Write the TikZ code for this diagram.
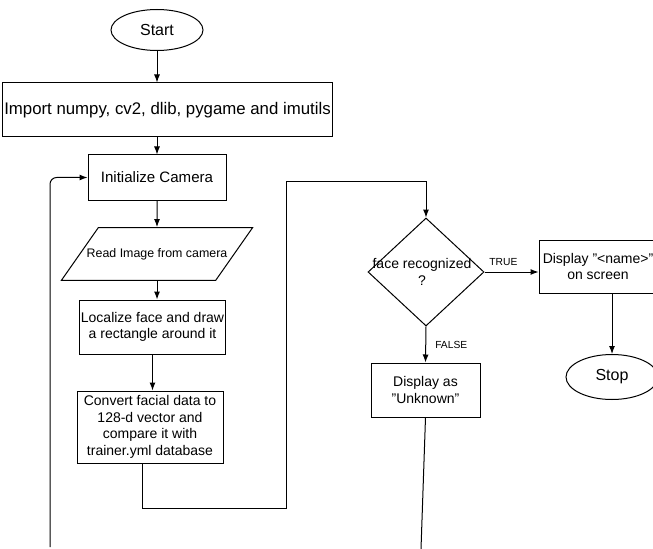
\documentclass[tikz,border=0pt]{standalone}
\usepackage{fontspec}
\setmainfont{Liberation Sans}
\usepackage{xcolor}
\usepackage{tikz}
\usetikzlibrary{shapes, arrows.meta}

\begin{document}
\begin{tikzpicture}[x=0.75pt,y=0.75pt,yscale=-1,xscale=1,
        line width=0.75,
        flowbox/.style={draw, rectangle, align=center, inner sep=0.75pt, font=\fontsize{10.5}{12.5}\selectfont},
        terminal/.style={draw, ellipse, minimum width=69pt, inner sep=0pt, font=\fontsize{12}{14}\selectfont},
        flowarrow/.style={-{Latex[length=6pt,width=4.5pt]}},
        branchlbl/.style={inner sep=0.75pt, font=\fontsize{7.7}{9}\selectfont}]

        \useasboundingbox (0,0) rectangle (653,549);

        \node [terminal, minimum height=30.75pt] (start) at (157,30) {Start};
        \node [flowbox, minimum width=248pt, minimum height=40.5pt, font=\fontsize{12.6}{15}\selectfont] (import) at (167.5,110) {Import numpy, cv2, dlib, pygame and imutils};
        \node [flowbox, minimum width=103.5pt, minimum height=33.75pt, font=\fontsize{11.3}{13.5}\selectfont] (init) at (157,177.5) {Initialize Camera};
        \node [draw, trapezium, trapezium left angle=55, trapezium right angle=125, inner xsep=-8.75pt, inner ysep=15.5pt, font=\fontsize{9.3}{11}\selectfont] (read) at (157,254) {Read Image from camera};
        \node [flowbox, minimum width=110pt, minimum height=40.5pt] (localize) at (152.5,327) {Localize face and draw\\a rectangle around it};
        \node [flowbox, minimum width=109.5pt, minimum height=54pt] (convert) at (150,427) {Convert facial data to\\128-d vector and\\compare it with\\trainer.yml database};
        \node [draw, diamond, minimum width=87pt, minimum height=81pt, inner sep=0pt, label={[align=center, xshift=-3pt, font=\fontsize{10.5}{12.5}\selectfont]center:face recognized\\?}] (decision) at (426,272) {};
        \node [flowbox, minimum width=88.5pt, minimum height=39.75pt] (showname) at (598,266.5) {Display "<name>"\\on screen};
        \node [terminal, minimum height=33.75pt] (stop) at (612,377) {Stop};
        \node [flowbox, minimum width=81.75pt, minimum height=40.5pt] (unknown) at (425.5,390) {Display as\\"Unknown"};

        \coordinate (turnA) at (286,508);
        \coordinate (turnB) at (286,182);
        \coordinate (loopEnd) at (50,547);
        \coordinate (unknownEnd) at (421,549);

        \draw [flowarrow] (start) -- (start |- import.north);
        \draw [flowarrow] (init.north |- import.south) -- (init.north);
        \draw [flowarrow] (init) -- (read);
        \draw [flowarrow] (read.south) -- (read.south |- localize.north);
        \draw [flowarrow] (localize.south) -- (localize.south |- convert.north);
        \draw [flowarrow] ([xshift=-6pt]convert.south) |- (turnA) -- (turnB) -| (decision.north);
        \draw [flowarrow] (decision.east) -- (decision.east -| showname.west) node [branchlbl, pos=0.35, above=4pt] {TRUE};
        \draw [flowarrow] (decision.south) -- (unknown.north) node [branchlbl, pos=0.5, right=6pt] {FALSE};
        \draw [flowarrow] (showname.south -| stop.north) -- (stop.north);
        \draw (unknown.south) -- (unknownEnd);
        \draw [flowarrow, rounded corners=5] (loopEnd) |- (init.west);
    \end{tikzpicture}
\end{document}
